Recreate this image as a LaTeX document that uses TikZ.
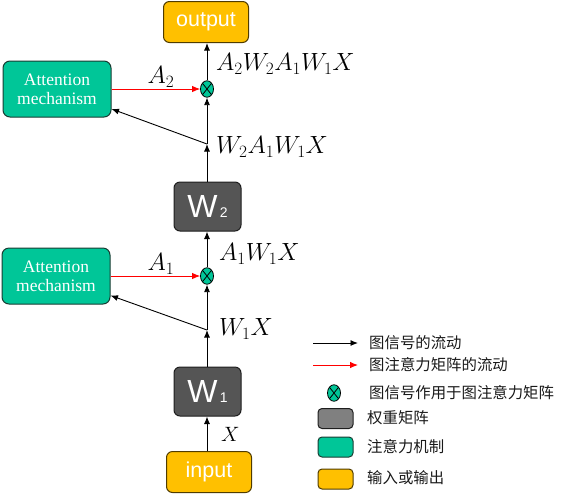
\documentclass[tikz,border=0pt]{standalone}
\usepackage{fontspec}
\newfontfamily\cjk{Noto Sans CJK SC}
\newfontfamily\arialf{Liberation Sans}
\newfontfamily\timesf{Liberation Serif}
\usetikzlibrary{arrows.meta,shapes.geometric}
\definecolor{attgreen}{RGB}{0,198,152}
\definecolor{attborder}{RGB}{25,60,50}
\definecolor{wgray}{RGB}{85,85,85}
\definecolor{wborder}{RGB}{30,30,30}
\definecolor{leggray}{RGB}{128,128,128}
\definecolor{ioyellow}{RGB}{255,192,0}
\definecolor{ioborder}{RGB}{80,60,0}
\begin{document}
\begin{tikzpicture}[x=1pt,y=-1pt,
  flow/.style={-{Latex[length=7.5pt,width=6pt]}, line width=0.9pt, black},
  attflow/.style={-{Latex[length=8pt,width=6.5pt]}, line width=0.9pt, red},
  wbox/.style={draw=wborder, fill=wgray, rounded corners=6pt, line width=1pt, minimum width=67pt, minimum height=49pt, inner sep=0pt, text=white, font=\arialf\fontsize{32}{32}\selectfont},
  attbox/.style={draw=attborder, fill=attgreen, rounded corners=7pt, line width=1pt, minimum width=108pt, minimum height=56pt, inner sep=0pt, text=white, align=center, font=\timesf\fontsize{17.5}{19}\selectfont},
  iobox/.style={draw=ioborder, fill=ioyellow, rounded corners=6pt, line width=1pt, minimum width=85pt, minimum height=41pt, inner sep=0pt, text=white, font=\arialf\fontsize{21.5}{21.5}\selectfont},
  otimesnode/.style={ellipse, draw=black, fill=attgreen, line width=0.8pt, minimum width=13pt, minimum height=16.5pt, inner sep=0pt, path picture={\draw[line width=0.8pt] (path picture bounding box.north west) -- (path picture bounding box.south east) (path picture bounding box.north east) -- (path picture bounding box.south west);}},
  mathlbl/.style={anchor=west, inner sep=0pt, font=\fontsize{24}{28}\selectfont},
  leg/.style={anchor=west, inner sep=0pt, text=black!90, font=\cjk\fontsize{15.4}{16}\selectfont},
  legbox/.style={rounded corners=4pt, line width=1pt, minimum width=35pt, minimum height=20pt, inner sep=0pt}
]
\useasboundingbox (0,0) rectangle (564,499);

% main column
\node[iobox] (output) at (206,22) {output};
\node[attbox] (att1) at (57,89) {Attention\\mechanism};
\node[otimesnode] (x2) at (207,89) {};
\coordinate (j2) at (207,144);
\node[wbox] (W2) at (207.5,206.5) {W{\fontsize{14}{14}\selectfont\,2}};
\node[attbox] (att2) at (56,276) {Attention\\mechanism};
\node[otimesnode] (x1) at (207,276) {};
\coordinate (j1) at (207,330);
\node[wbox] (W1) at (207.5,391.5) {W{\fontsize{14}{14}\selectfont\,1}};
\node[iobox] (input) at (209,472) {input};

% connectors
\draw[flow] (input.north -| j1) -- (W1.south -| j1);
\draw[flow] (W1.north -| j1) -- (j1);
\draw[flow] (j1) -- (x1.south);
\draw[flow] (j1) -- (att2);
\draw[flow] (x1.north) -- (W2.south -| j1);
\draw[flow] (W2.north -| j2) -- (j2);
\draw[flow] (j2) -- (x2.south);
\draw[flow] (j2) -- (att1);
\draw[flow] (x2.north) -- (output.south -| x2);
\draw[attflow] (att1.east) -- (x2.west);
\draw[attflow] (att2.east) -- (x1.west);

% labels
\node[inner sep=0pt, font=\fontsize{24}{28}\selectfont] (lA2) at (161,77) {$A_2$};
\node[inner sep=0pt, font=\fontsize{24}{28}\selectfont] (lA1) at (161,264) {$A_1$};
\node[mathlbl] (l5) at (216,64) {$A_2W_2A_1W_1X$};
\node[mathlbl] (l4) at (216,147) {$W_2A_1W_1X$};
\node[mathlbl] (l3) at (219,254) {$A_1W_1X$};
\node[mathlbl] (l2) at (219,329) {$W_1X$};
\node[mathlbl, font=\fontsize{22}{26}\selectfont] (l1) at (221,434) {$X$};

% legend
\coordinate (a1s) at (313,343); \coordinate (a1e) at (358,343);
\draw[flow] (a1s) -- (a1e);
\node[leg] (t1) at (369,343) {图信号的流动};
\coordinate (a2s) at (313,365); \coordinate (a2e) at (358,365);
\draw[attflow] (a2s) -- (a2e);
\node[leg] (t2) at (369,365) {图注意力矩阵的流动};
\node[otimesnode] (lx) at (334,393) {};
\node[leg] (t3) at (369,393) {图信号作用于图注意力矩阵};
\node[legbox, draw=wborder, fill=leggray] (b1) at (335.5,418.5) {};
\node[leg] (t4) at (367,418) {权重矩阵};
\node[legbox, draw=attborder, fill=attgreen] (b2) at (335.5,447) {};
\node[leg] (t5) at (367,447) {注意力机制};
\node[legbox, draw=ioborder, fill=ioyellow] (b3) at (335.5,479) {};
\node[leg] (t6) at (367,478) {输入或输出};
\end{tikzpicture}
\end{document}
